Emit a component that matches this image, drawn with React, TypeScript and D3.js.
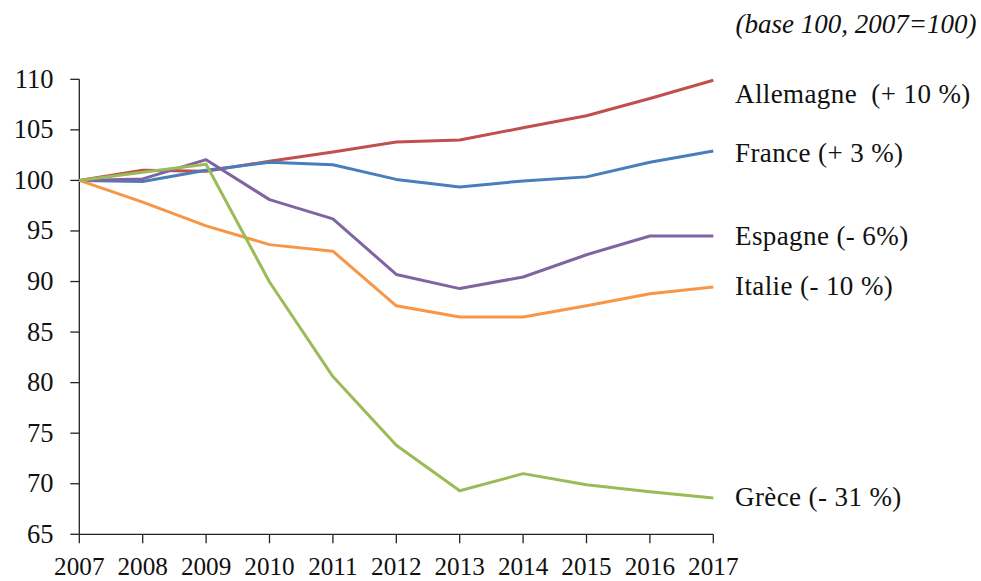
import React from "react";
import * as d3 from "d3";

// Index values, base 100 in 2007
const years = [2007, 2008, 2009, 2010, 2011, 2012, 2013, 2014, 2015, 2016, 2017];
const allemagne = [100, 101.0, 100.9, 101.9, 102.8, 103.8, 104.0, 105.2, 106.4, 108.1, 109.9];
const france = [100, 99.9, 101.0, 101.8, 101.55, 100.1, 99.35, 99.95, 100.35, 101.8, 102.9];
const espagne = [100, 100.15, 102.05, 98.1, 96.2, 90.7, 89.3, 90.45, 92.65, 94.5, 94.5];
const italie = [100, 97.85, 95.5, 93.65, 93.0, 87.6, 86.5, 86.5, 87.6, 88.8, 89.45];
const grece = [100, 100.8, 101.6, 89.95, 80.6, 73.8, 69.3, 71.0, 69.9, 69.2, 68.6];

const yTicks = [65, 70, 75, 80, 85, 90, 95, 100, 105, 110];

const seriesNames = ["Allemagne", "France", "Espagne", "Italie", "Grèce"];
const seriesLabels = ["Allemagne  (+ 10 %)", "France (+ 3 %)", "Espagne (- 6%)", "Italie (- 10 %)", "Grèce (- 31 %)"];
const seriesColors = ["#C0504D", "#4A7EBB", "#8064A2", "#F79646", "#9BBB59"];
const seriesValues = [allemagne, france, espagne, italie, grece];
// vertical anchor of each end label, in index units
const labelValues = [108.5, 102.74, 94.5, 89.55, 68.7];

const subtitle = "(base 100, 2007=100)";

const W = 981;
const H = 581;
const FONT = "'Liberation Serif', 'DejaVu Serif', serif";

export default function App() {
  const x = d3.scaleLinear().domain([2007, 2017]).range([79.3, 713.3]);
  const y = d3.scaleLinear().domain([65, 110]).range([534.3, 79.3]);

  const line = d3
    .line<[number, number]>()
    .x((d) => x(d[0]))
    .y((d) => y(d[1]));

  return (
    <svg
      width={W}
      height={H}
      style={{ position: "absolute", left: 0, top: 0, background: "#fff" }}
      fontFamily={FONT}
    >
      <rect x={0} y={0} width={W} height={H} fill="#fff" />

      {/* y axis */}
      <line x1={x(2007)} x2={x(2007)} y1={y(110)} y2={y(65)} stroke="#222" strokeWidth={1.3} />
      {yTicks.map((t) => (
        <g key={t}>
          <line x1={x(2007) - 9} x2={x(2007)} y1={y(t)} y2={y(t)} stroke="#222" strokeWidth={1.3} />
          <text x={53.5} y={y(t) + 8.5} textAnchor="end" fontSize={26.5} fill="#111">
            {t}
          </text>
        </g>
      ))}

      {/* x axis */}
      <line x1={x(2007)} x2={x(2017)} y1={y(65)} y2={y(65)} stroke="#222" strokeWidth={1.3} />
      {years.map((yr) => (
        <g key={yr}>
          <line x1={x(yr)} x2={x(yr)} y1={y(65)} y2={y(65) + 9} stroke="#222" strokeWidth={1.3} />
          <text x={x(yr)} y={575.3} textAnchor="middle" fontSize={25.2} fill="#111">
            {yr}
          </text>
        </g>
      ))}

      {/* series */}
      {seriesValues.map((vals, i) => (
        <path
          key={seriesNames[i]}
          d={line(years.map((yr, j) => [yr, vals[j]] as [number, number])) || ""}
          fill="none"
          stroke={seriesColors[i]}
          strokeWidth={3}
          strokeLinejoin="round"
        />
      ))}

      {/* end labels */}
      {seriesLabels.map((lab, i) => (
        <text
          key={lab}
          x={735}
          y={y(labelValues[i]) + 9}
          fontSize={27}
          letterSpacing={0.4}
          fill="#111"
          style={{ whiteSpace: "pre" }}
        >
          {lab}
        </text>
      ))}

      <text x={976.5} y={33} textAnchor="end" fontSize={27} fontStyle="italic" fill="#111">
        {subtitle}
      </text>
    </svg>
  );
}
